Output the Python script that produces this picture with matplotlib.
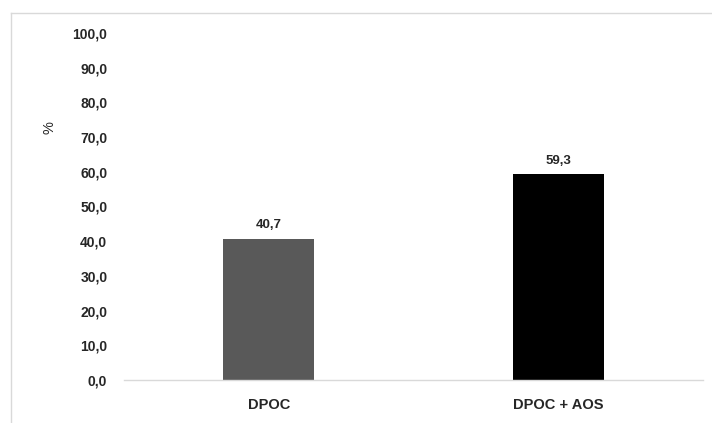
import matplotlib
matplotlib.use("Agg")
import matplotlib.pyplot as plt
from matplotlib.lines import Line2D

categories = ["DPOC", "DPOC + AOS"]
values = [40.7, 59.3]
colors = ["#595959", "#000000"]
yticks = [0, 10, 20, 30, 40, 50, 60, 70, 80, 90, 100]

plt.rcParams['font.family'] = ['Liberation Sans', 'DejaVu Sans']

fig = plt.figure(figsize=(7.12, 4.23), dpi=100)
W, H = 712, 423
ax = fig.add_axes([124 / W, 1 - 380 / H, (703 - 124) / W, (380 - 33) / H])

x = list(range(len(categories)))
bars = ax.bar(x, values, width=0.315, color=colors)
ax.set_xlim(-0.5, 1.5)
ax.set_ylim(0, 100)
ax.set_yticks(yticks)
ax.set_yticklabels([f"{v:.1f}".replace(".", ",") for v in yticks],
                   fontsize=10, fontweight='bold', color='#262626')
ax.set_xticks(x)
ax.set_xticklabels(categories, fontsize=10.5, fontweight='bold', color='#262626')
ax.tick_params(axis='both', length=0)
ax.tick_params(axis='y', pad=12)
ax.tick_params(axis='x', pad=13)
for s in ['top', 'right', 'left']:
    ax.spines[s].set_visible(False)
ax.spines['bottom'].set_color('#d9d9d9')
ax.spines['bottom'].set_linewidth(1.0)

for xi, v in zip(x, values):
    ax.text(xi, v + 2.2, f"{v:.1f}".replace(".", ","), ha='center', va='bottom',
            fontsize=9.5, fontweight='bold', color='#262626')

fig.text(49 / W, 1 - 128 / H, "%", rotation=90, ha='center', va='center',
         fontsize=10.5, color='#262626')

# figure border (left and top)
fig.add_artist(Line2D([11 / W, 11 / W], [0, 1 - 13 / H], transform=fig.transFigure,
                      color='#d9d9d9', linewidth=1.0))
fig.add_artist(Line2D([11 / W, 1], [1 - 13 / H, 1 - 13 / H], transform=fig.transFigure,
                      color='#d9d9d9', linewidth=1.0))

fig.savefig("out.png", dpi=100, facecolor='white')
